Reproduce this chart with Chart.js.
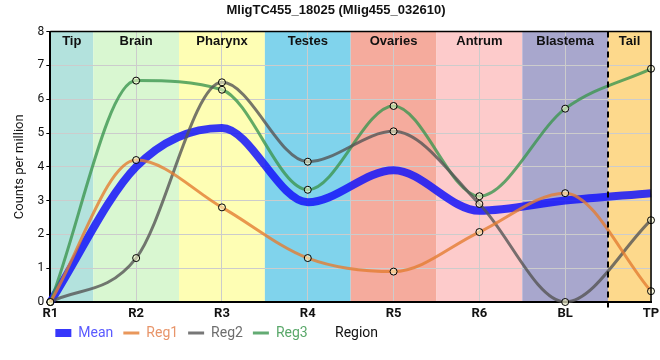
<!DOCTYPE html>
<html>
<head>
<meta charset="utf-8">
<script src="https://cdn.jsdelivr.net/npm/chart.js@4.4.1/dist/chart.umd.min.js"></script>
<style>
html,body{margin:0;padding:0;background:#fff;}
#wrap{width:660px;height:360px;}
</style>
</head>
<body>
<div id="wrap"><canvas id="c" width="660" height="360"></canvas></div>
<script>
const categories = ["R1","R2","R3","R4","R5","R6","BL","TP"];
const meanValues = [0, 4.0, 5.15, 2.95, 3.9, 2.7, 3.0, 3.22];
const reg1Values = [0, 4.2, 2.8, 1.3, 0.9, 2.07, 3.22, 0.32];
const reg2Values = [0, 1.3, 6.5, 4.15, 5.05, 2.9, 0, 2.42];
const reg3Values = [0, 6.55, 6.28, 3.32, 5.8, 3.13, 5.72, 6.9];
const yTicks = [0,1,2,3,4,5,6,7,8];
const bandNames = ["Tip","Brain","Pharynx","Testes","Ovaries","Antrum","Blastema","Tail"];
const bandStarts = [0, 0.5, 1.5, 2.5, 3.5, 4.5, 5.5, 6.5];
const bandEnds   = [0.5, 1.5, 2.5, 3.5, 4.5, 5.5, 6.5, 7];
const bandColors = ["#b3e2dd","#d9f7d1","#fefeb4","#80d3ec","#f5ab9d","#fdcbcb","#a8a7cd","#fdd98c"];
const dashedAt = 6.5;
const titleText = "MligTC455_18025 (Mlig455_032610)";
const yTitle = "Counts per million";
const xTitle = "Region";

const seriesColors = {
  Mean: "rgba(20,20,250,0.85)",
  Reg1: "rgba(228,125,50,0.8)",
  Reg2: "rgba(85,85,85,0.8)",
  Reg3: "rgba(60,150,80,0.8)"
};
const legendText = {
  Mean: "#5a5aff",
  Reg1: "#e8956a",
  Reg2: "#6e6e6e",
  Reg3: "#5aa86a"
};

const bandPlugin = {
  id: 'bands',
  afterLayout(chart) {
    const lg = chart.legend;
    if (lg) { lg.left -= 5; lg.right -= 5; lg.top -= 6; lg.bottom -= 6; }
  },
  beforeDraw(chart) {
    const {ctx, chartArea} = chart;
    const x = chart.scales.x;
    ctx.save();
    for (let i = 0; i < bandNames.length; i++) {
      const x0 = x.getPixelForValue(bandStarts[i]);
      const x1 = x.getPixelForValue(bandEnds[i]);
      ctx.fillStyle = bandColors[i];
      ctx.fillRect(x0, chartArea.top, x1 - x0, chartArea.bottom - chartArea.top);
    }
    ctx.restore();
  },
  afterDatasetsDraw(chart) {
    const {ctx, chartArea} = chart;
    const x = chart.scales.x;
    ctx.save();
    const xd = Math.round(x.getPixelForValue(dashedAt));
    ctx.strokeStyle = "#000";
    ctx.lineWidth = 2;
    ctx.setLineDash([6, 4]);
    ctx.beginPath();
    ctx.moveTo(xd, chartArea.top);
    ctx.lineTo(xd, chartArea.bottom + 6);
    ctx.stroke();
    ctx.setLineDash([]);
    ctx.lineWidth = 1.5;
    ctx.beginPath();
    ctx.moveTo(chartArea.left, chartArea.top);
    ctx.lineTo(chartArea.right, chartArea.top);
    ctx.lineTo(chartArea.right, chartArea.bottom);
    ctx.stroke();
    ctx.fillStyle = "#111";
    ctx.font = "bold 13px 'Liberation Sans', Arial, sans-serif";
    ctx.textAlign = "center";
    ctx.textBaseline = "middle";
    for (let i = 0; i < bandNames.length; i++) {
      const x0 = x.getPixelForValue(bandStarts[i]);
      const x1 = x.getPixelForValue(bandEnds[i]);
      ctx.fillText(bandNames[i], (x0 + x1) / 2, chartArea.top + 10);
    }
    const lg = chart.legend;
    ctx.font = "14px Roboto, 'Liberation Sans', sans-serif";
    ctx.fillStyle = "#111";
    ctx.textAlign = "left";
    let ly = 331;
    if (lg && lg.legendHitBoxes && lg.legendHitBoxes.length) {
      const hb = lg.legendHitBoxes[0];
      ly = hb.top + hb.height / 2;
    }
    ctx.fillText(xTitle, 335, ly);
    ctx.restore();
  }
};

function ds(label, data, width, points) {
  return {
    label: label,
    data: data,
    borderColor: seriesColors[label],
    backgroundColor: seriesColors[label],
    borderWidth: width,
    cubicInterpolationMode: 'monotone',
    fill: false,
    pointRadius: points ? 3.5 : 0,
    pointHoverRadius: points ? 3.5 : 0,
    pointBorderColor: "#000",
    pointBorderWidth: 1,
    pointBackgroundColor: "rgba(255,255,210,0.55)",
    clip: false
  };
}

const datasets = [
  ds("Reg1", reg1Values, 3, true),
  ds("Reg2", reg2Values, 3, true),
  ds("Reg3", reg3Values, 3, true),
  ds("Mean", meanValues, 8, false)
];
const legendOrder = ["Mean","Reg1","Reg2","Reg3"];

new Chart(document.getElementById('c'), {
  type: 'line',
  data: { labels: categories, datasets: datasets },
  plugins: [bandPlugin],
  options: {
    responsive: false,
    animation: false,
    events: [],
    layout: { padding: { left: 12, right: 0, top: 0, bottom: 4 } },
    plugins: {
      title: {
        display: true,
        text: titleText,
        color: "#111",
        font: { family: "'Liberation Sans', Arial, sans-serif", size: 13, weight: 'bold' },
        padding: { top: 3, bottom: 13 }
      },
      legend: {
        display: true,
        position: 'bottom',
        align: 'start',
        fullSize: false,
        labels: {
          usePointStyle: true,
          pointStyle: 'line',
          pointStyleWidth: 16,
          boxWidth: 16,
          boxHeight: 8,
          padding: 10,
          font: { family: "Roboto, 'Liberation Sans', sans-serif", size: 14 },
          generateLabels(chart) {
            return legendOrder.map(name => {
              const i = chart.data.datasets.findIndex(d => d.label === name);
              return {
                text: name,
                fillStyle: seriesColors[name],
                strokeStyle: seriesColors[name],
                lineWidth: name === "Mean" ? 8 : 3,
                lineCap: 'butt',
                pointStyle: 'line',
                fontColor: legendText[name],
                hidden: false,
                datasetIndex: i
              };
            });
          }
        }
      },
      tooltip: { enabled: false }
    },
    scales: {
      x: {
        type: 'category',
        offset: false,
        afterFit(scale) { scale.height = 20; scale.paddingRight = 9; scale.paddingLeft = 0; },
        grid: { color: "#cccccc", lineWidth: 1, drawTicks: false },
        border: { color: "#000", width: 2 },
        ticks: {
          color: "#111",
          padding: 4,
          maxRotation: 0,
          autoSkip: false,
          font: { family: "Roboto, 'Liberation Sans', sans-serif", size: 13, weight: 'bold' }
        },
        title: { display: false }
      },
      y: {
        min: 0,
        max: 8,
        afterBuildTicks(axis) { axis.ticks = yTicks.map(v => ({ value: v })); },
        grid: { color: "#cccccc", lineWidth: 1, tickLength: 4, tickColor: "#000" },
        border: { color: "#000", width: 2 },
        ticks: {
          color: "#111",
          padding: 2,
          font: { family: "Roboto, 'Liberation Sans', sans-serif", size: 12 }
        },
        title: {
          display: true,
          text: yTitle,
          color: "#111",
          padding: { top: 0, bottom: 8 },
          font: { family: "Roboto, 'Liberation Sans', sans-serif", size: 13 }
        }
      }
    }
  }
});
</script>
</body>
</html>
